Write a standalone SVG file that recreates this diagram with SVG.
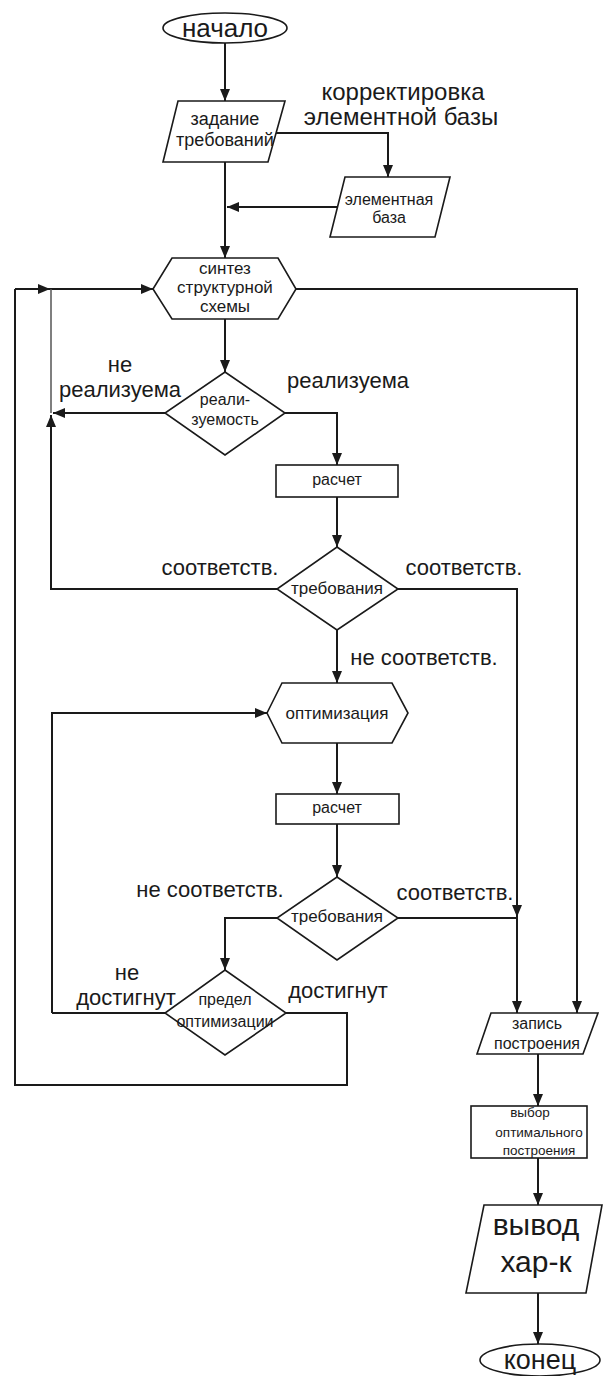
<svg xmlns="http://www.w3.org/2000/svg" width="611" height="1376" viewBox="0 0 611 1376">
<defs>
<marker id="arr" markerUnits="userSpaceOnUse" markerWidth="12" markerHeight="10" refX="12" refY="5" orient="auto">
<path d="M0,0 L12,5 L0,10 z" fill="#1a1a1a"/>
</marker>
<style>
.n{fill:#fff;stroke:#1a1a1a;stroke-width:1.6}
.c{fill:none;stroke:#1a1a1a;stroke-width:2}
.ca{fill:none;stroke:#1a1a1a;stroke-width:2;marker-end:url(#arr)}
text{font-family:"Liberation Sans",Arial,sans-serif;fill:#1a1a1a;text-anchor:middle}
.s{font-size:17px}
.l{font-size:22px}
</style>
</defs>
<rect width="611" height="1376" fill="#fff"/>
<g id="connectors">
<path class="ca" d="M225,43 V101"/>
<path class="ca" d="M225,162 V258"/>
<path class="ca" d="M276,133 H388 V177"/>
<path class="ca" d="M337,207 H227"/>
<path class="ca" d="M15,289 H50"/>
<path class="ca" d="M50,289 H153"/>
<path class="c" d="M15,289 V1085 H347 V1013 H286"/>
<path class="c" d="M51,289 V413" style="stroke-width:1.5;stroke:#555"/>
<path class="ca" d="M225,319 V372"/>
<path class="ca" d="M165,413 H53"/>
<path class="ca" d="M277,589 H51 V415"/>
<path class="ca" d="M285,413 H337 V465"/>
<path class="ca" d="M337,497 V547"/>
<path class="ca" d="M296,289 H577 V1013"/>
<path class="ca" d="M398,589 H517 V917"/>
<path class="ca" d="M517,917 V1013"/>
<path class="ca" d="M337,630 V683"/>
<path class="ca" d="M52,1013 V713 H267"/>
<path class="c" d="M165,1013 H52"/>
<path class="ca" d="M337,743 V794"/>
<path class="ca" d="M337,824 V877"/>
<path class="c" d="M398,918 H517"/>
<path class="ca" d="M277,918 H225 V970"/>
<path class="ca" d="M538,1054 V1106"/>
<path class="ca" d="M538,1158 V1205"/>
<path class="ca" d="M538,1293 V1344"/>
</g>
<g id="labels">
<text class="l" style="font-size:24px" x="403" y="100">корректировка</text>
<text class="l" style="font-size:24px" x="401" y="125">элементной базы</text>
<text class="l" x="120" y="372">не</text>
<text class="l" x="120" y="397">реализуема</text>
<text class="l" x="348" y="388">реализуема</text>
<text class="l" x="220" y="575">соответств.</text>
<text class="l" x="464" y="575">соответств.</text>
<text class="l" x="424" y="665">не соответств.</text>
<text class="l" x="210" y="897">не соответств.</text>
<text class="l" x="455" y="900">соответств.</text>
<text class="l" x="127" y="980">не</text>
<text class="l" x="126" y="1005">достигнут</text>
<text class="l" x="338" y="998">достигнут</text>
</g>
<g id="start">
<ellipse class="n" cx="225" cy="28" rx="62" ry="15"/>
<text style="font-size:26px" x="225" y="37">начало</text>
</g>
<g id="requirements">
<polygon class="n" points="178,101 285,101 268,162 163,162"/>
<text style="font-size:18px" x="225" y="125">задание</text>
<text style="font-size:18px" x="225" y="146">требований</text>
</g>
<g id="element-base">
<polygon class="n" points="345,177 450,177 435,237 330,237"/>
<text style="font-size:16px" x="389" y="205">элементная</text>
<text style="font-size:16px" x="389" y="223">база</text>
</g>
<g id="synthesis">
<polygon class="n" points="153,289 172,258 278,258 296,289 278,319 172,319"/>
<text class="s" x="225" y="274">синтез</text>
<text class="s" x="225" y="293">структурной</text>
<text class="s" x="225" y="312">схемы</text>
</g>
<g id="realizability">
<polygon class="n" points="225,372 285,413 225,455 165,413"/>
<text style="font-size:16px" x="225" y="405">реали-</text>
<text style="font-size:16px" x="225" y="425">зуемость</text>
</g>
<g id="calc1">
<rect class="n" x="276" y="465" width="122" height="32"/>
<text style="font-size:16px" x="337" y="485">расчет</text>
</g>
<g id="req-check1">
<polygon class="n" points="337,547 398,589 337,630 277,589"/>
<text class="s" x="337" y="594">требования</text>
</g>
<g id="optimization">
<polygon class="n" points="267,713 282,683 392,683 408,713 392,743 282,743"/>
<text class="s" x="337" y="719">оптимизация</text>
</g>
<g id="calc2">
<rect class="n" x="276" y="794" width="123" height="30"/>
<text style="font-size:16px" x="337" y="813">расчет</text>
</g>
<g id="req-check2">
<polygon class="n" points="337,877 398,918 337,960 277,918"/>
<text class="s" x="337" y="922">требования</text>
</g>
<g id="opt-limit">
<polygon class="n" points="225,970 286,1013 225,1055 165,1013"/>
<text style="font-size:16px" x="225" y="1005">предел</text>
<text style="font-size:16px" x="225" y="1027">оптимизации</text>
</g>
<g id="record">
<polygon class="n" points="491,1013 598,1013 583,1054 477,1054"/>
<text style="font-size:16px" x="537" y="1029">запись</text>
<text style="font-size:16px" x="537" y="1049">построения</text>
</g>
<g id="choose">
<rect class="n" x="471" y="1106" width="116" height="52"/>
<text style="font-size:13.5px" x="530" y="1117">выбор</text>
<text style="font-size:13.5px" x="539" y="1137">оптимального</text>
<text style="font-size:13.5px" x="539" y="1155">построения</text>
</g>
<g id="output">
<polygon class="n" points="484,1205 602,1205 586,1293 466,1293"/>
<text style="font-size:30px" x="536" y="1235">вывод</text>
<text style="font-size:30px" x="536" y="1272">хар-к</text>
</g>
<g id="end">
<ellipse class="n" cx="540" cy="1360" rx="60" ry="16"/>
<text style="font-size:27px" x="540" y="1369">конец</text>
</g>
</svg>
